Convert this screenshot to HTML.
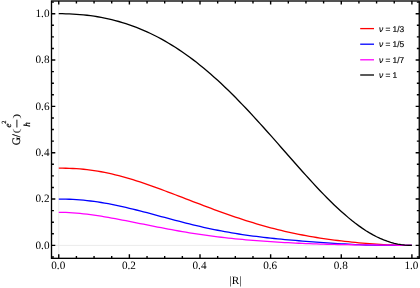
<!DOCTYPE html>
<html>
<head>
<meta charset="utf-8">
<title>G vs |R|</title>
<style>
html, body { margin: 0; padding: 0; background: #ffffff; }
body { width: 420px; height: 288px; overflow: hidden; font-family: "Liberation Sans", sans-serif; }
svg { display: block; }
svg text { text-rendering: geometricPrecision; }
svg { will-change: transform; }
</style>
</head>
<body>
<svg width="420" height="288" viewBox="0 0 420 288">
<rect x="0" y="0" width="420" height="288" fill="#ffffff"/>
<line x1="58.75" y1="1.0" x2="58.75" y2="258.33" stroke="#e6e6e6" stroke-width="0.8"/>
<line x1="55.5" y1="245.4" x2="419.25" y2="245.4" stroke="#e6e6e6" stroke-width="0.8"/>
<path d="M58.75,168.17 L62.28,168.18 L65.81,168.24 L69.34,168.34 L72.88,168.49 L76.41,168.69 L79.94,168.94 L83.47,169.26 L87.00,169.63 L90.53,170.07 L94.06,170.56 L97.60,171.12 L101.13,171.74 L104.66,172.41 L108.19,173.14 L111.72,173.93 L115.25,174.78 L118.79,175.67 L122.32,176.61 L125.85,177.60 L129.38,178.63 L132.91,179.71 L136.44,180.82 L139.97,181.97 L143.51,183.15 L147.04,184.35 L150.57,185.59 L154.10,186.85 L157.63,188.13 L161.16,189.43 L164.69,190.74 L168.23,192.07 L171.76,193.41 L175.29,194.75 L178.82,196.11 L182.35,197.46 L185.88,198.82 L189.42,200.18 L192.95,201.54 L196.48,202.89 L200.01,204.23 L203.54,205.57 L207.07,206.90 L210.60,208.22 L214.14,209.53 L217.67,210.82 L221.20,212.10 L224.73,213.36 L228.26,214.61 L231.79,215.83 L235.32,217.04 L238.86,218.22 L242.39,219.38 L245.92,220.52 L249.45,221.63 L252.98,222.72 L256.51,223.78 L260.05,224.82 L263.58,225.83 L267.11,226.81 L270.64,227.76 L274.17,228.68 L277.70,229.58 L281.23,230.44 L284.77,231.28 L288.30,232.08 L291.83,232.86 L295.36,233.61 L298.89,234.32 L302.42,235.01 L305.96,235.68 L309.49,236.31 L313.02,236.92 L316.55,237.50 L320.08,238.06 L323.61,238.59 L327.14,239.10 L330.68,239.59 L334.21,240.06 L337.74,240.50 L341.27,240.93 L344.80,241.33 L348.33,241.72 L351.86,242.09 L355.40,242.45 L358.93,242.78 L362.46,243.10 L365.99,243.40 L369.52,243.68 L373.05,243.95 L376.58,244.19 L380.12,244.42 L383.65,244.62 L387.18,244.81 L390.71,244.96 L394.24,245.10 L397.77,245.21 L401.31,245.30 L404.84,245.35 L408.37,245.39 L411.90,245.40" fill="none" stroke="#ff0000" stroke-width="1.3" stroke-linejoin="round" stroke-linecap="butt"/>
<path d="M58.75,199.06 L62.28,199.08 L65.81,199.15 L69.34,199.27 L72.88,199.43 L76.41,199.65 L79.94,199.91 L83.47,200.22 L87.00,200.58 L90.53,200.99 L94.06,201.45 L97.60,201.95 L101.13,202.50 L104.66,203.09 L108.19,203.72 L111.72,204.40 L115.25,205.10 L118.79,205.85 L122.32,206.62 L125.85,207.43 L129.38,208.26 L132.91,209.12 L136.44,210.00 L139.97,210.90 L143.51,211.81 L147.04,212.74 L150.57,213.67 L154.10,214.62 L157.63,215.57 L161.16,216.52 L164.69,217.47 L168.23,218.42 L171.76,219.36 L175.29,220.30 L178.82,221.22 L182.35,222.13 L185.88,223.03 L189.42,223.92 L192.95,224.78 L196.48,225.63 L200.01,226.45 L203.54,227.26 L207.07,228.04 L210.60,228.80 L214.14,229.53 L217.67,230.25 L221.20,230.93 L224.73,231.59 L228.26,232.23 L231.79,232.84 L235.32,233.43 L238.86,234.00 L242.39,234.54 L245.92,235.06 L249.45,235.55 L252.98,236.03 L256.51,236.48 L260.05,236.92 L263.58,237.34 L267.11,237.74 L270.64,238.12 L274.17,238.50 L277.70,238.85 L281.23,239.20 L284.77,239.53 L288.30,239.85 L291.83,240.16 L295.36,240.46 L298.89,240.76 L302.42,241.05 L305.96,241.33 L309.49,241.60 L313.02,241.87 L316.55,242.13 L320.08,242.39 L323.61,242.64 L327.14,242.88 L330.68,243.12 L334.21,243.35 L337.74,243.57 L341.27,243.79 L344.80,243.99 L348.33,244.19 L351.86,244.37 L355.40,244.54 L358.93,244.70 L362.46,244.85 L365.99,244.98 L369.52,245.09 L373.05,245.19 L376.58,245.27 L380.12,245.34 L383.65,245.39 L387.18,245.42 L390.71,245.44 L394.24,245.45 L397.77,245.45 L401.31,245.43 L404.84,245.42 L408.37,245.41 L411.90,245.40" fill="none" stroke="#0000ff" stroke-width="1.3" stroke-linejoin="round" stroke-linecap="butt"/>
<path d="M58.75,212.30 L62.28,212.33 L65.81,212.44 L69.34,212.60 L72.88,212.82 L76.41,213.09 L79.94,213.42 L83.47,213.79 L87.00,214.20 L90.53,214.66 L94.06,215.15 L97.60,215.67 L101.13,216.22 L104.66,216.80 L108.19,217.41 L111.72,218.04 L115.25,218.68 L118.79,219.34 L122.32,220.02 L125.85,220.70 L129.38,221.40 L132.91,222.10 L136.44,222.81 L139.97,223.52 L143.51,224.23 L147.04,224.94 L150.57,225.64 L154.10,226.34 L157.63,227.04 L161.16,227.73 L164.69,228.40 L168.23,229.07 L171.76,229.72 L175.29,230.36 L178.82,230.99 L182.35,231.60 L185.88,232.20 L189.42,232.78 L192.95,233.35 L196.48,233.90 L200.01,234.43 L203.54,234.94 L207.07,235.44 L210.60,235.92 L214.14,236.38 L217.67,236.82 L221.20,237.25 L224.73,237.66 L228.26,238.05 L231.79,238.43 L235.32,238.79 L238.86,239.14 L242.39,239.47 L245.92,239.79 L249.45,240.10 L252.98,240.39 L256.51,240.67 L260.05,240.94 L263.58,241.20 L267.11,241.44 L270.64,241.68 L274.17,241.91 L277.70,242.13 L281.23,242.33 L284.77,242.53 L288.30,242.72 L291.83,242.91 L295.36,243.08 L298.89,243.25 L302.42,243.40 L305.96,243.55 L309.49,243.69 L313.02,243.82 L316.55,243.95 L320.08,244.06 L323.61,244.17 L327.14,244.27 L330.68,244.36 L334.21,244.44 L337.74,244.51 L341.27,244.58 L344.80,244.64 L348.33,244.70 L351.86,244.75 L355.40,244.79 L358.93,244.83 L362.46,244.87 L365.99,244.90 L369.52,244.94 L373.05,244.97 L376.58,245.01 L380.12,245.04 L383.65,245.09 L387.18,245.13 L390.71,245.17 L394.24,245.22 L397.77,245.27 L401.31,245.32 L404.84,245.36 L408.37,245.39 L411.90,245.40" fill="none" stroke="#ff00ff" stroke-width="1.3" stroke-linejoin="round" stroke-linecap="butt"/>
<path d="M58.75,13.70 L62.28,13.72 L65.81,13.79 L69.34,13.90 L72.88,14.06 L76.41,14.28 L79.94,14.54 L83.47,14.87 L87.00,15.25 L90.53,15.69 L94.06,16.19 L97.60,16.75 L101.13,17.37 L104.66,18.06 L108.19,18.82 L111.72,19.64 L115.25,20.54 L118.79,21.50 L122.32,22.53 L125.85,23.64 L129.38,24.82 L132.91,26.07 L136.44,27.41 L139.97,28.81 L143.51,30.30 L147.04,31.86 L150.57,33.51 L154.10,35.23 L157.63,37.03 L161.16,38.92 L164.69,40.89 L168.23,42.94 L171.76,45.08 L175.29,47.29 L178.82,49.60 L182.35,51.98 L185.88,54.45 L189.42,57.00 L192.95,59.64 L196.48,62.35 L200.01,65.15 L203.54,68.03 L207.07,70.99 L210.60,74.03 L214.14,77.14 L217.67,80.33 L221.20,83.59 L224.73,86.93 L228.26,90.33 L231.79,93.80 L235.32,97.33 L238.86,100.92 L242.39,104.58 L245.92,108.28 L249.45,112.04 L252.98,115.84 L256.51,119.69 L260.05,123.58 L263.58,127.50 L267.11,131.45 L270.64,135.42 L274.17,139.42 L277.70,143.43 L281.23,147.46 L284.77,151.48 L288.30,155.51 L291.83,159.53 L295.36,163.54 L298.89,167.52 L302.42,171.49 L305.96,175.42 L309.49,179.31 L313.02,183.16 L316.55,186.95 L320.08,190.69 L323.61,194.36 L327.14,197.96 L330.68,201.48 L334.21,204.91 L337.74,208.25 L341.27,211.49 L344.80,214.61 L348.33,217.62 L351.86,220.51 L355.40,223.27 L358.93,225.89 L362.46,228.37 L365.99,230.70 L369.52,232.87 L373.05,234.88 L376.58,236.73 L380.12,238.40 L383.65,239.90 L387.18,241.21 L390.71,242.35 L394.24,243.30 L397.77,244.07 L401.31,244.66 L404.84,245.08 L408.37,245.32 L411.90,245.40" fill="none" stroke="#000000" stroke-width="1.3" stroke-linejoin="round" stroke-linecap="butt"/>
<path d="M58.75,258.33 v-4.2 M58.75,1.0 v3.5999999999999996 M76.41,258.33 v-2.4 M76.41,1.0 v2.4 M94.06,258.33 v-2.4 M94.06,1.0 v2.4 M111.72,258.33 v-2.4 M111.72,1.0 v2.4 M129.38,258.33 v-4.2 M129.38,1.0 v3.5999999999999996 M147.04,258.33 v-2.4 M147.04,1.0 v2.4 M164.69,258.33 v-2.4 M164.69,1.0 v2.4 M182.35,258.33 v-2.4 M182.35,1.0 v2.4 M200.01,258.33 v-4.2 M200.01,1.0 v3.5999999999999996 M217.67,258.33 v-2.4 M217.67,1.0 v2.4 M235.32,258.33 v-2.4 M235.32,1.0 v2.4 M252.98,258.33 v-2.4 M252.98,1.0 v2.4 M270.64,258.33 v-4.2 M270.64,1.0 v3.5999999999999996 M288.30,258.33 v-2.4 M288.30,1.0 v2.4 M305.96,258.33 v-2.4 M305.96,1.0 v2.4 M323.61,258.33 v-2.4 M323.61,1.0 v2.4 M341.27,258.33 v-4.2 M341.27,1.0 v3.5999999999999996 M358.93,258.33 v-2.4 M358.93,1.0 v2.4 M376.58,258.33 v-2.4 M376.58,1.0 v2.4 M394.24,258.33 v-2.4 M394.24,1.0 v2.4 M411.90,258.33 v-4.2 M411.90,1.0 v3.5999999999999996 M51.5,256.99 h2.4 M419.25,256.99 h-2.4 M51.5,245.40 h3.8 M419.25,245.40 h-3.5999999999999996 M51.5,233.81 h2.4 M419.25,233.81 h-2.4 M51.5,222.23 h2.4 M419.25,222.23 h-2.4 M51.5,210.64 h2.4 M419.25,210.64 h-2.4 M51.5,199.06 h3.8 M419.25,199.06 h-3.5999999999999996 M51.5,187.47 h2.4 M419.25,187.47 h-2.4 M51.5,175.89 h2.4 M419.25,175.89 h-2.4 M51.5,164.31 h2.4 M419.25,164.31 h-2.4 M51.5,152.72 h3.8 M419.25,152.72 h-3.5999999999999996 M51.5,141.13 h2.4 M419.25,141.13 h-2.4 M51.5,129.55 h2.4 M419.25,129.55 h-2.4 M51.5,117.96 h2.4 M419.25,117.96 h-2.4 M51.5,106.38 h3.8 M419.25,106.38 h-3.5999999999999996 M51.5,94.79 h2.4 M419.25,94.79 h-2.4 M51.5,83.21 h2.4 M419.25,83.21 h-2.4 M51.5,71.62 h2.4 M419.25,71.62 h-2.4 M51.5,60.04 h3.8 M419.25,60.04 h-3.5999999999999996 M51.5,48.45 h2.4 M419.25,48.45 h-2.4 M51.5,36.87 h2.4 M419.25,36.87 h-2.4 M51.5,25.28 h2.4 M419.25,25.28 h-2.4 M51.5,13.70 h3.8 M419.25,13.70 h-3.5999999999999996 M51.5,2.11 h2.4 M419.25,2.11 h-2.4" fill="none" stroke="#000" stroke-width="1.4"/>
<rect x="51.5" y="1.0" width="367.75" height="257.33" fill="none" stroke="#000" stroke-width="1.34"/>
<g font-family="'Liberation Serif', serif" font-size="11.2" fill="#000">
<text x="58.25" y="268.8" text-anchor="middle">0.0</text>
<text x="128.88" y="268.8" text-anchor="middle">0.2</text>
<text x="199.51" y="268.8" text-anchor="middle">0.4</text>
<text x="270.14" y="268.8" text-anchor="middle">0.6</text>
<text x="340.77" y="268.8" text-anchor="middle">0.8</text>
<text x="411.40" y="268.8" text-anchor="middle">1.0</text>
<text x="49.5" y="248.70" text-anchor="end">0.0</text>
<text x="49.5" y="202.36" text-anchor="end">0.2</text>
<text x="49.5" y="156.02" text-anchor="end">0.4</text>
<text x="49.5" y="109.68" text-anchor="end">0.6</text>
<text x="49.5" y="63.34" text-anchor="end">0.8</text>
<text x="49.5" y="17.00" text-anchor="end">1.0</text>
<text x="235.5" y="284.0" text-anchor="middle" font-size="11.2">|R|</text>
</g>
<g transform="translate(16.9,123.6) rotate(-90)" font-family="'Liberation Serif', serif" fill="#000" stroke="#000" stroke-width="0.2">
<text x="-21.6" y="2.9" font-size="11.4">G</text>
<text x="-13.6" y="2.9" font-size="11.4">/</text>
<path d="M-5.3,-3.8 A3.7,3.9 0 0 0 -5.3,4.0 A2.9,3.9 0 0 1 -5.3,-3.8 Z" stroke-width="0.2"/>
<path d="M5.3,-3.8 A3.7,3.9 0 0 1 5.3,4.0 A2.9,3.9 0 0 0 5.3,-3.8 Z" stroke-width="0.2"/>
<line x1="-3.9" y1="0" x2="3.9" y2="0" stroke="#000" stroke-width="0.9"/>
<text x="-3.8" y="-5.8" font-size="9" font-style="italic">e</text>
<text x="-0.1" y="-11.3" font-size="6.3">2</text>
<text x="-3.1" y="12.7" font-size="9" font-style="italic">h</text>
</g>
<g font-family="'Liberation Sans', sans-serif" font-size="8.4" fill="#000" stroke="#000" stroke-width="0.15">
<line x1="360.2" y1="28.6" x2="374.0" y2="28.6" stroke="#ff0000" stroke-width="1.3"/>
<text x="378.9" y="31.50"><tspan font-style="italic">&#957;</tspan> = 1/3</text>
<line x1="360.2" y1="44.2" x2="374.0" y2="44.2" stroke="#0000ff" stroke-width="1.3"/>
<text x="378.9" y="47.10"><tspan font-style="italic">&#957;</tspan> = 1/5</text>
<line x1="360.2" y1="59.8" x2="374.0" y2="59.8" stroke="#ff00ff" stroke-width="1.3"/>
<text x="378.9" y="62.70"><tspan font-style="italic">&#957;</tspan> = 1/7</text>
<line x1="360.2" y1="75.0" x2="374.0" y2="75.0" stroke="#000000" stroke-width="1.3"/>
<text x="378.9" y="77.90"><tspan font-style="italic">&#957;</tspan> = 1</text>
</g>
</svg>
</body>
</html>
